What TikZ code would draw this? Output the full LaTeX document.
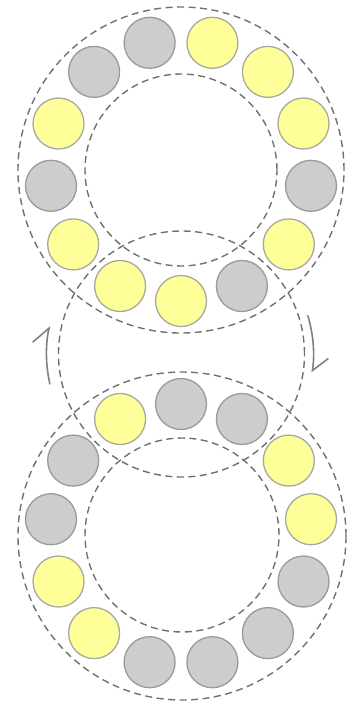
\documentclass[tikz,border=0pt]{standalone}
\usetikzlibrary{arrows.meta}
\definecolor{gfill}{HTML}{CDCDCD}
\definecolor{gedge}{HTML}{9A9A9A}
\definecolor{yfill}{HTML}{FFFF99}
\definecolor{yedge}{HTML}{A8A8A0}
\definecolor{dashgray}{HTML}{707070}

\begin{document}
\begin{tikzpicture}[x=1pt,y=1pt]
   \tikzset{ring/.style={draw=dashgray, circle, line width=1.4pt, dash pattern=on 7pt off 4.5pt, inner sep=0pt, minimum size=#1}};
   \tikzset{ball/.style 2 args={draw=#1, fill=#2, circle, line width=1.3pt, inner sep=0pt, minimum size=51pt}};
   \tikzset{turn/.style 2 args={draw=gray, line width=1.6pt, -{Straight Barb[left,length=#1,width=#2]}}};
   \useasboundingbox (0,0) rectangle (352,-705);

\node[ring=326pt] (topout) at (181,-170) {};
\node[ring=192pt] (topin) at (181,-170) {};
\node[ring=246pt] (mid) at (181.5,-354) {};
\node[ring=328pt] (botout) at (182,-536) {};
\node[ring=194pt] (botin) at (182,-535) {};

% top ring
\node[ball={yedge}{yfill}] (t0) at (181,-301) {};
\node[ball={gedge}{gfill}] (t1) at (241.9,-286) {};
\node[ball={yedge}{yfill}] (t2) at (288.8,-244.4) {};
\node[ball={gedge}{gfill}] (t3) at (311,-185.8) {};
\node[ball={yedge}{yfill}] (t4) at (303.5,-123.5) {};
\node[ball={yedge}{yfill}] (t5) at (267.9,-71.9) {};
\node[ball={yedge}{yfill}] (t6) at (212.4,-42.8) {};
\node[ball={gedge}{gfill}] (t7) at (149.6,-42.8) {};
\node[ball={gedge}{gfill}] (t8) at (94.1,-71.9) {};
\node[ball={yedge}{yfill}] (t9) at (58.5,-123.5) {};
\node[ball={gedge}{gfill}] (t10) at (51,-185.8) {};
\node[ball={yedge}{yfill}] (t11) at (73.2,-244.4) {};
\node[ball={yedge}{yfill}] (t12) at (120.1,-286) {};

% bottom ring
\node[ball={gedge}{gfill}] (b0) at (181,-404) {};
\node[ball={yedge}{yfill}] (b1) at (120.1,-419) {};
\node[ball={gedge}{gfill}] (b2) at (73.2,-460.6) {};
\node[ball={gedge}{gfill}] (b3) at (51,-519.2) {};
\node[ball={yedge}{yfill}] (b4) at (58.5,-581.5) {};
\node[ball={yedge}{yfill}] (b5) at (94.1,-633.1) {};
\node[ball={gedge}{gfill}] (b6) at (149.6,-662.2) {};
\node[ball={gedge}{gfill}] (b7) at (212.4,-662.2) {};
\node[ball={gedge}{gfill}] (b8) at (267.9,-633.1) {};
\node[ball={gedge}{gfill}] (b9) at (303.5,-581.5) {};
\node[ball={yedge}{yfill}] (b10) at (311,-519.2) {};
\node[ball={yedge}{yfill}] (b11) at (288.8,-460.6) {};
\node[ball={gedge}{gfill}] (b12) at (241.9,-419) {};

\coordinate (l0) at ([shift={(193:135)}]mid.center);
\coordinate (r0) at ([shift={(17:132)}]mid.center);
\draw[turn={17pt}{26pt}] (l0) arc[start angle=193, end angle=168, radius=135];
\draw[turn={14pt}{28pt}] (r0) arc[start angle=17, end angle=-8, radius=132];

\end{tikzpicture}
\end{document}
